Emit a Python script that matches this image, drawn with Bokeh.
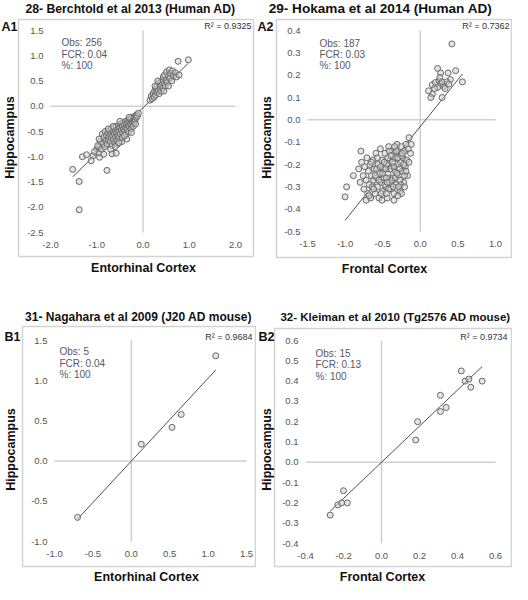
import numpy as np
from bokeh.plotting import figure
from bokeh.layouts import gridplot
from bokeh.models import Range1d
from bokeh.core.properties import value
from bokeh.embed import file_html
from bokeh.resources import INLINE

FONT = "Liberation Sans"

# ---------------- data: A1 ----------------
a1_title = "28- Berchtold et al 2013 (Human AD)"
a1_tag = "A1"
a1_xlabel = "Entorhinal Cortex"
a1_ylabel = "Hippocampus"
a1_x = [-1.38, -1.38, -1.52, -0.78, -1.31, -1.22, -1.08, -0.94, -1.12, -0.67, -0.58, 0.98, 0.76, -1.00, -0.95,
        -0.98, -0.95, -0.92, -0.90, -0.88, -0.86, -0.85, -0.83, -0.82, -0.80,
        -0.79, -0.78, -0.76, -0.75, -0.74, -0.72, -0.71, -0.70, -0.69, -0.68,
        -0.67, -0.66, -0.65, -0.64, -0.63, -0.62, -0.61, -0.60, -0.59, -0.58,
        -0.57, -0.56, -0.55, -0.54, -0.53, -0.52, -0.51, -0.50, -0.49, -0.48,
        -0.47, -0.46, -0.45, -0.44, -0.43, -0.42, -0.41, -0.40, -0.39, -0.38,
        -0.37, -0.36, -0.35, -0.34, -0.33, -0.32, -0.31, -0.30, -0.29, -0.28,
        -0.27, -0.26, -0.25, -0.24, -0.23, -0.22, -0.21, -0.20, -0.19, -0.18,
        -0.17, -0.16, -0.15, -0.14, -0.12, -0.10, -0.45, -0.55, -0.35, -0.60,
        -0.40, -0.70, -0.25, -0.50, -0.30, -0.65, -0.75, -0.85, -0.95, -1.05, -0.52,
        0.15, 0.18, 0.20, 0.22, 0.24, 0.25, 0.27, 0.28, 0.30, 0.31,
        0.33, 0.34, 0.35, 0.36, 0.38, 0.39, 0.40, 0.42, 0.43, 0.44,
        0.46, 0.47, 0.48, 0.50, 0.51, 0.53, 0.55, 0.57, 0.58, 0.60,
        0.62, 0.64, 0.66, 0.70, 0.72, 0.78, 0.45, 0.32, 0.55, 0.26]
a1_y = [-2.05, -1.49, -1.25, -1.27, -1.00, -0.96, -0.98, -1.01, -1.08, -0.94, -0.93, 0.92, 0.89, -0.85, -0.80,
        -0.78, -0.92, -0.70, -0.85, -0.55, -0.74, -0.62, -0.80, -0.50, -0.68,
        -0.58, -0.75, -0.52, -0.66, -0.60, -0.48, -0.70, -0.56, -0.62, -0.45,
        -0.78, -0.58, -0.50, -0.66, -0.42, -0.55, -0.72, -0.48, -0.60, -0.40,
        -0.53, -0.68, -0.45, -0.58, -0.38, -0.50, -0.62, -0.42, -0.55, -0.35,
        -0.47, -0.70, -0.40, -0.52, -0.33, -0.45, -0.60, -0.37, -0.48, -0.30,
        -0.42, -0.55, -0.34, -0.44, -0.28, -0.38, -0.50, -0.31, -0.40, -0.25,
        -0.35, -0.45, -0.28, -0.36, -0.22, -0.30, -0.40, -0.24, -0.32, -0.20,
        -0.27, -0.35, -0.22, -0.17, -0.20, -0.14, -0.62, -0.75, -0.65, -0.80,
        -0.58, -0.85, -0.52, -0.30, -0.22, -0.40, -0.45, -0.95, -0.65, -0.90, -0.72,
        0.12, 0.20, 0.15, 0.25, 0.18, 0.30, 0.22, 0.35, 0.28, 0.40,
        0.32, 0.45, 0.25, 0.38, 0.48, 0.30, 0.42, 0.52, 0.36, 0.58,
        0.45, 0.62, 0.40, 0.52, 0.68, 0.47, 0.60, 0.72, 0.55, 0.65,
        0.50, 0.70, 0.60, 0.66, 0.58, 0.62, 0.30, 0.50, 0.40, 0.40]
a1_xticks = [-2.0, -1.0, 0.0, 1.0, 2.0]
a1_xticklabels = ["-2.0", "-1.0", "0.0", "1.0", "2.0"]
a1_yticks = [-2.5, -2.0, -1.5, -1.0, -0.5, 0.0, 0.5, 1.0, 1.5]
a1_yticklabels = ["-2.5", "-2.0", "-1.5", "-1.0", "-0.5", "0.0", "0.5", "1.0", "1.5"]
a1_stats = ["Obs: 256", "FCR: 0.04", "%: 100"]
a1_r2 = "R² = 0.9325"
a1_fit = [0.90, -0.03]   # slope, intercept of the trend line

# ---------------- data: A2 ----------------
a2_title = "29- Hokama et al 2014 (Human AD)"
a2_tag = "A2"
a2_xlabel = "Frontal Cortex"
a2_ylabel = "Hippocampus"
a2_x = [0.42, -1.00, -0.98, -0.89, -0.79, -0.15, -0.72,
        0.23, 0.27, 0.37, 0.47, 0.56, 0.40, 0.29, 0.16, 0.11, 0.16,
        0.20, 0.25, 0.27, 0.31, 0.35, 0.23, 0.29, 0.26, 0.33, 0.19,
        0.38, 0.14,
        -0.82, -0.80, -0.78, -0.76, -0.75, -0.74, -0.72, -0.71, -0.70, -0.69,
        -0.68, -0.67, -0.66, -0.65, -0.64, -0.63, -0.62, -0.61, -0.60, -0.59,
        -0.58, -0.57, -0.56, -0.55, -0.54, -0.53, -0.52, -0.51, -0.50, -0.49,
        -0.48, -0.47, -0.46, -0.45, -0.44, -0.43, -0.42, -0.41, -0.40, -0.39,
        -0.38, -0.37, -0.36, -0.35, -0.34, -0.33, -0.32, -0.31, -0.30, -0.29,
        -0.28, -0.27, -0.26, -0.25, -0.24, -0.23, -0.22, -0.21, -0.20, -0.19,
        -0.18, -0.17, -0.16, -0.15, -0.13, -0.12,
        -0.55, -0.50, -0.45, -0.40, -0.35, -0.30, -0.25, -0.48, -0.43, -0.38,
        -0.33, -0.28, -0.58, -0.52, -0.47, -0.42, -0.37, -0.32, -0.27, -0.22,
        -0.62, -0.57, -0.46, -0.41, -0.36, -0.31, -0.26, -0.21, -0.65, -0.60,
        -0.53, -0.44, -0.39, -0.34, -0.29, -0.24, -0.19, -0.51, -0.68, -0.35,
        -0.25, -0.30, -0.45, -0.21]
a2_y = [0.34, -0.345, -0.30, -0.25, -0.14, -0.08, -0.36,
        0.23, 0.21, 0.21, 0.22, 0.17, 0.18, 0.10, 0.115, 0.13, 0.157,
        0.167, 0.175, 0.16, 0.15, 0.17, 0.145, 0.17, 0.19, 0.14, 0.14,
        0.16, 0.10,
        -0.22, -0.28, -0.19, -0.25, -0.31, -0.21, -0.27, -0.17, -0.33, -0.23,
        -0.29, -0.20, -0.35, -0.25, -0.30, -0.18, -0.27, -0.22, -0.33, -0.15,
        -0.26, -0.30, -0.20, -0.35, -0.24, -0.13, -0.28, -0.18, -0.32, -0.22,
        -0.26, -0.15, -0.30, -0.20, -0.35, -0.24, -0.12, -0.28, -0.18, -0.31,
        -0.21, -0.14, -0.26, -0.33, -0.17, -0.23, -0.29, -0.11, -0.20, -0.25,
        -0.15, -0.32, -0.19, -0.12, -0.23, -0.17, -0.28, -0.14, -0.21, -0.11,
        -0.18, -0.25, -0.13, -0.19, -0.15, -0.11,
        -0.27, -0.24, -0.26, -0.22, -0.21, -0.17, -0.16, -0.19, -0.17, -0.27,
        -0.26, -0.22, -0.22, -0.33, -0.29, -0.31, -0.19, -0.14, -0.27, -0.20,
        -0.31, -0.17, -0.22, -0.14, -0.30, -0.24, -0.29, -0.25, -0.19, -0.25,
        -0.21, -0.28, -0.16, -0.12, -0.30, -0.15, -0.23, -0.36, -0.34, -0.36,
        -0.33, -0.34, -0.33, -0.30]
a2_xticks = [-1.5, -1.0, -0.5, 0.0, 0.5, 1.0]
a2_xticklabels = ["-1.5", "-1.0", "-0.5", "0.0", "0.5", "1.0"]
a2_yticks = [-0.5, -0.4, -0.3, -0.2, -0.1, 0.0, 0.1, 0.2, 0.3, 0.4]
a2_yticklabels = ["-0.5", "-0.4", "-0.3", "-0.2", "-0.1", "0.0", "0.1", "0.2", "0.3", "0.4"]
a2_stats = ["Obs: 187", "FCR: 0.03", "%: 100"]
a2_r2 = "R² = 0.7362"
a2_fit = [0.42, -0.03]

# ---------------- data: B1 ----------------
b1_title = "31- Nagahara et al 2009 (J20 AD mouse)"
b1_tag = "B1"
b1_xlabel = "Entorhinal Cortex"
b1_ylabel = "Hippocampus"
b1_x = [-0.70, 0.13, 0.53, 0.65, 1.10]
b1_y = [-0.70, 0.21, 0.42, 0.58, 1.31]
b1_xticks = [-1.0, -0.5, 0.0, 0.5, 1.0, 1.5]
b1_xticklabels = ["-1.0", "-0.5", "0.0", "0.5", "1.0", "1.5"]
b1_yticks = [-1.0, -0.5, 0.0, 0.5, 1.0, 1.5]
b1_yticklabels = ["-1.0", "-0.5", "0.0", "0.5", "1.0", "1.5"]
b1_stats = ["Obs: 5", "FCR: 0.04", "%: 100"]
b1_r2 = "R² = 0.9684"
b1_fit = [1.03, 0.0]

# ---------------- data: B2 ----------------
b2_title = "32- Kleiman et al 2010 (Tg2576 AD mouse)"
b2_tag = "B2"
b2_xlabel = "Frontal Cortex"
b2_ylabel = "Hippocampus"
b2_x = [-0.27, -0.23, -0.21, -0.20, -0.18, 0.18, 0.19, 0.31, 0.31, 0.34, 0.42, 0.44, 0.46, 0.47, 0.53]
b2_y = [-0.26, -0.21, -0.20, -0.14, -0.20, 0.11, 0.20, 0.33, 0.25, 0.27, 0.45, 0.40, 0.41, 0.37, 0.40]
b2_xticks = [-0.4, -0.2, 0.0, 0.2, 0.4, 0.6]
b2_xticklabels = ["-0.4", "-0.2", "0.0", "0.2", "0.4", "0.6"]
b2_yticks = [-0.4, -0.3, -0.2, -0.1, 0.0, 0.1, 0.2, 0.3, 0.4, 0.5, 0.6]
b2_yticklabels = ["-0.4", "-0.3", "-0.2", "-0.1", "0.0", "0.1", "0.2", "0.3", "0.4", "0.5", "0.6"]
b2_stats = ["Obs: 15", "FCR: 0.13", "%: 100"]
b2_r2 = "R² = 0.9734"
b2_fit = [0.89, 0.0]

# ---------------- layout (pixel positions inside each panel) ----------------
LAYOUT_A1 = dict(W=256, H=282, box=(18, 253, 19, 256), ax=(50, 235, 30, 232), title=(130, 8, "12.2px"),
                 tag=(1, 26), hippo=(9, 137), xlab=(143, 267), stats=(61, [42, 54, 65]), r2=(251, 25))
LAYOUT_A2 = dict(W=256, H=282, box=(20, 255, 19, 257), ax=(51, 239, 30, 231), title=(124, 8, "13.6px"),
                 tag=(1, 26), hippo=(10, 137), xlab=(128, 268), stats=(63, [43, 54, 65]), r2=(253, 25))
LAYOUT_B1 = dict(W=256, H=302, box=(22, 255, 44, 284), ax=(54, 246, 58, 259), title=(138, 34, "12px"),
                 tag=(4, 54), hippo=(10, 167), xlab=(146, 294), stats=(59, [69, 81, 92]), r2=(252, 54))
LAYOUT_B2 = dict(W=256, H=302, box=(18, 255, 46, 284), ax=(49, 239, 58, 261), title=(139, 34, "11.5px"),
                 tag=(2, 54), hippo=(10, 167), xlab=(126, 294), stats=(59, [71, 82, 94]), r2=(251, 54))


def txt(p, x, y, s, size, color="#111111", style="normal", align="left", baseline="middle", angle=0.0,
        x_offset=0, y_offset=0):
    p.text(x=x, y=y, text=s, text_font=value(FONT), text_font_size=size, text_font_style=style,
           text_color=color, text_align=align, text_baseline=baseline, angle=angle,
           x_offset=x_offset, y_offset=y_offset)


def panel(L, title, tag, xlabel, ylabel, xs, ys, xticks, xtl, yticks, ytl, stats, r2, fit):
    W, H = L["W"], L["H"]
    ax0, ax1, ay0, ay1 = L["ax"]
    xmin, xmax = xticks[0], xticks[-1]
    ymin, ymax = yticks[0], yticks[-1]
    ux = (xmax - xmin) / (ax1 - ax0)
    uy = (ymax - ymin) / (ay1 - ay0)

    def px(v):
        return xmin + (v - ax0) * ux

    def py(v):
        return ymax - (v - ay0) * uy

    p = figure(width=W, height=H, output_backend="svg", toolbar_location=None,
               x_range=Range1d(px(0), px(W)), y_range=Range1d(py(H), py(0)),
               x_axis_location=None, y_axis_location=None,
               min_border_left=0, min_border_right=0, min_border_top=0, min_border_bottom=0)
    p.xgrid.visible = False
    p.ygrid.visible = False
    p.outline_line_color = None
    p.background_fill_color = "white"
    p.border_fill_color = "white"

    # plot-area box
    bl, br, bt, bb = L["box"]
    p.quad(left=[px(bl)], right=[px(br)], top=[py(bt)], bottom=[py(bb)],
           fill_color=None, line_color="#d3d3d3", line_width=1.5)

    # zero axes spanning the tick range
    p.segment(x0=[xmin, 0], y0=[0, ymin], x1=[xmax, 0], y1=[0, ymax],
              line_color="#cfcfcf", line_width=1.5)

    # tick labels
    txt(p, [xmin] * len(yticks), yticks, ytl, "9.5px", color="#555555", align="right", x_offset=-7)
    txt(p, xticks, [ymin] * len(xticks), xtl, "9.5px", color="#555555", align="center", y_offset=12)

    # trend line
    xf = np.array([min(xs), max(xs)])
    p.line(xf, fit[0] * xf + fit[1], line_color="#505050", line_width=1)

    # points
    p.scatter(xs, ys, marker="circle", size=6, fill_color="#d0d0d0", fill_alpha=0.55,
              line_color="#686868", line_width=1)

    # texts
    tx, ty, tsize = L["title"]
    txt(p, [px(tx)], [py(ty)], [title], tsize, style="bold", align="center")
    gx, gy = L["tag"]
    txt(p, [px(gx)], [py(gy)], [tag], "12.5px", style="bold", align="left")
    hx, hy = L["hippo"]
    txt(p, [px(hx)], [py(hy)], [ylabel], "12.5px", style="bold", align="center", angle=np.pi / 2)
    lx, ly = L["xlab"]
    txt(p, [px(lx)], [py(ly)], [xlabel], "12.5px", style="bold", align="center")
    sx, sys_ = L["stats"]
    txt(p, [px(sx)] * len(stats), [py(v) for v in sys_], stats, "10px", color="#585868")
    rx, ry = L["r2"]
    txt(p, [px(rx)], [py(ry)], [r2], "9px", color="#333333", align="right")
    return p


pa1 = panel(LAYOUT_A1, a1_title, a1_tag, a1_xlabel, a1_ylabel, a1_x, a1_y, a1_xticks, a1_xticklabels,
            a1_yticks, a1_yticklabels, a1_stats, a1_r2, a1_fit)
pa2 = panel(LAYOUT_A2, a2_title, a2_tag, a2_xlabel, a2_ylabel, a2_x, a2_y, a2_xticks, a2_xticklabels,
            a2_yticks, a2_yticklabels, a2_stats, a2_r2, a2_fit)
pb1 = panel(LAYOUT_B1, b1_title, b1_tag, b1_xlabel, b1_ylabel, b1_x, b1_y, b1_xticks, b1_xticklabels,
            b1_yticks, b1_yticklabels, b1_stats, b1_r2, b1_fit)
pb2 = panel(LAYOUT_B2, b2_title, b2_tag, b2_xlabel, b2_ylabel, b2_x, b2_y, b2_xticks, b2_xticklabels,
            b2_yticks, b2_yticklabels, b2_stats, b2_r2, b2_fit)

grid = gridplot([[pa1, pa2], [pb1, pb2]], toolbar_location=None)
open("out.html", "w").write(file_html(grid, INLINE))
